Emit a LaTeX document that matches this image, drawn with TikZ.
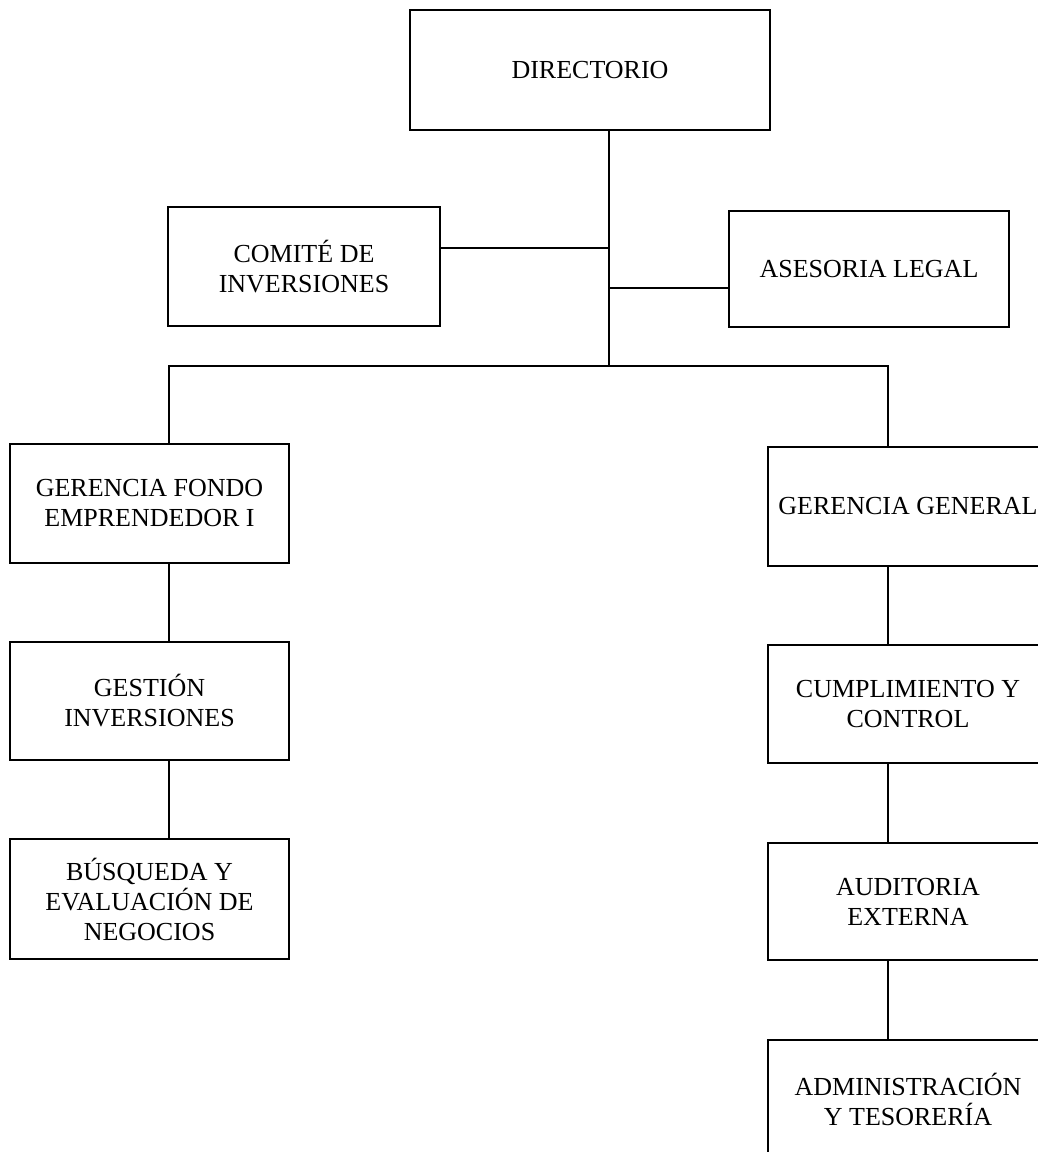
\documentclass[tikz,border=0pt]{standalone}
\usepackage{fontspec}
\setmainfont{Liberation Serif}
\begin{document}
\begin{tikzpicture}[x=1pt,y=-1pt,
  box/.style={draw, line width=1.8pt, inner sep=0pt, align=center,
    font=\fontsize{26}{30}\selectfont, text=black},
  conn/.style={line width=1.8pt}]
\clip (0,0) rectangle (1038,1152);
\fill[white] (0,0) rectangle (1038,1152);
% top
\node[box, minimum width=360pt, minimum height=120pt] (dir) at (590,70) {DIRECTORIO};
\node[box, minimum width=272pt, minimum height=119pt] (comite) at (304,266.5) {COMITÉ DE\\INVERSIONES};
\node[box, minimum width=280pt, minimum height=116pt] (asesoria) at (869,269) {ASESORIA LEGAL};
% left column
\node[box, minimum width=279pt, minimum height=119pt] (gfondo) at (149.5,503.5) {GERENCIA FONDO\\EMPRENDEDOR I};
\node[box, minimum width=279pt, minimum height=118pt] (gestion) at (149.5,701) {GESTIÓN\\INVERSIONES};
\node[box, minimum width=279pt, minimum height=120pt] (busqueda) at (149.5,899) {BÚSQUEDA Y\\EVALUACIÓN DE\\NEGOCIOS};
% right column
\node[box, minimum width=280pt, minimum height=119pt] (ggeneral) at (908,506.5) {GERENCIA GENERAL};
\node[box, minimum width=280pt, minimum height=118pt] (cumpl) at (908,704) {CUMPLIMIENTO Y\\CONTROL};
\node[box, minimum width=280pt, minimum height=117pt] (audit) at (908,901.5) {AUDITORIA\\EXTERNA};
\node[box, minimum width=280pt, minimum height=118pt] (admin) at (908,1099) {ADMINISTRACIÓN\\Y TESORERÍA};
% junction points
\coordinate (trunk) at (609,366);
\coordinate (jc) at (609,248);
\coordinate (ja) at (609,288);
\coordinate (lx) at (169,366);
\coordinate (rx) at (888,366);
% connectors
\draw[conn] (dir.south -| trunk) -- (trunk);
\draw[conn] (comite.east |- jc) -- (jc);
\draw[conn] (ja) -- (asesoria.west |- ja);
\draw[conn] (gfondo.north -| lx) -- (lx) -- (rx) -- (ggeneral.north -| rx);
\draw[conn] (gfondo.south -| lx) -- (gestion.north -| lx);
\draw[conn] (gestion.south -| lx) -- (busqueda.north -| lx);
\draw[conn] (ggeneral.south -| rx) -- (cumpl.north -| rx);
\draw[conn] (cumpl.south -| rx) -- (audit.north -| rx);
\draw[conn] (audit.south -| rx) -- (admin.north -| rx);
\end{tikzpicture}
\end{document}
